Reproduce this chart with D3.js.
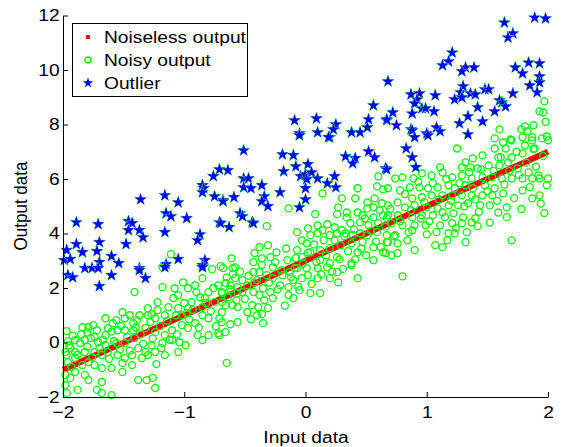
<!DOCTYPE html>
<html><head><meta charset="utf-8">
<script src="https://cdn.jsdelivr.net/npm/d3@7"></script>
<style>body{margin:0;background:#fff}svg{display:block}</style>
</head><body><svg id="c" width="562" height="447"></svg>
<script>
const xTicks=[-2,-1,0,1,2];
const xTickLabels=["\u22122","\u22121","0","1","2"];
const yTicks=[-2,0,2,4,6,8,10,12];
const yTickLabels=["\u22122","0","2","4","6","8","10","12"];
const seriesNames=["Noiseless output","Noisy output","Outlier"];
const axisTitles=["Input data","Output data"];
const noiselessX=[-2,-1,0,1,2];
const noiselessY=[-1,1,3,5,7];
const noisyOutput=[
[-1.97,0.42],[-1.96,0.05],[-1.98,-0.35],[-1.97,-0.46],[-1.96,-0.72],[-1.98,-1.19],[-1.94,-1.30],[-1.98,-1.56],[-1.97,-1.85],[-1.88,-1.74],
[-1.90,0.09],[-1.86,-0.02],[-1.82,0.09],[-1.84,0.56],[-1.79,0.56],[-1.80,0.38],[-1.75,0.64],[-1.72,0.45],[-1.74,0.20],[-1.71,0.01],
[-1.65,0.89],[-1.63,0.53],[-1.59,0.71],[-1.56,0.82],[-1.51,1.11],[-1.49,0.89],[-1.55,0.45],[-1.49,0.45],[-1.42,0.45],[-1.42,0.71],
[-1.39,0.82],[-1.41,1.85],[-1.27,1.04],[-1.24,0.89],[-1.18,2.03],[-1.08,1.99],[-1.09,1.63],[-1.05,1.74],[-1.01,2.21],[-0.97,1.99],
[-0.91,2.10],[-0.85,2.36],[-0.87,1.66],[-0.80,1.85],[-0.72,2.10],[-0.69,1.85],[-0.75,1.48],[-0.69,1.11],[-0.85,1.00],[-0.98,1.08],
[-1.05,1.26],[-1.13,1.30],[-1.22,1.19],[-1.30,1.26],[-1.32,0.53],[-1.24,0.38],[-1.16,0.27],[-1.10,0.45],[-1.02,0.64],[-0.97,0.53],
[-0.89,0.27],[-0.80,0.27],[-0.72,0.34],[-0.85,0.09],[-1.04,0.01],[-1.10,0.09],[-1.18,-0.02],[-1.27,-0.10],[-1.32,-0.35],[-1.38,-0.21],
[-1.43,-0.46],[-1.49,-0.57],[-1.55,-0.46],[-1.63,-0.35],[-1.68,-0.46],[-1.74,-0.35],[-1.79,-0.72],[-1.84,-0.83],[-1.74,-0.83],[-1.68,-0.94],
[-1.60,-0.94],[-1.51,-1.08],[-1.51,-0.75],[-1.43,-0.83],[-1.35,-0.57],[-1.30,-0.46],[-1.24,-0.35],[-1.23,-0.79],[-1.16,-0.46],[-1.05,-0.35],
[-0.99,-0.10],[-1.38,-1.38],[-1.31,-1.38],[-1.26,-1.30],[-1.24,-1.67],[-1.60,-1.93],[-1.68,-1.85],[-1.72,-1.74],[-1.68,-1.45],[-1.82,-1.19],
[-1.79,-1.38],[-1.90,-1.08],[-1.93,-0.90],[-1.65,0.27],[-1.90,-0.35],[-1.82,-0.35],[-1.94,-0.21],[-1.90,-0.57],[-1.41,0.16],[-1.49,-0.02],
[-1.56,-0.02],[-1.65,-0.10],[-0.94,1.48],[-0.97,1.26],[-0.85,1.30],[-0.80,0.89],[-0.91,0.71],[-1.02,1.00],[-1.16,1.00],[-1.22,1.48],
[-1.30,1.00],[-1.37,1.00],[-1.45,1.00],[-0.83,1.63],[-0.69,1.48],
[-0.68,2.73],[-0.60,2.73],[-0.65,2.39],[-0.58,2.36],[-0.52,2.29],[-0.66,2.18],[-0.62,2.10],[-0.56,2.03],[-0.48,2.10],[-0.43,2.58],
[-0.38,2.58],[-0.40,2.29],[-0.32,2.47],[-0.27,2.76],[-0.27,2.36],[-0.19,2.47],[-0.13,2.58],[-0.07,2.73],[-0.10,2.29],[-0.03,2.36],
[0.02,2.47],[0.10,2.73],[0.10,2.36],[0.18,2.76],[0.20,2.36],[0.26,2.58],[0.27,2.21],[0.38,2.84],[0.43,2.36],[-0.69,1.81],
[-0.64,1.66],[-0.56,1.81],[-0.52,1.85],[-0.43,1.85],[-0.38,1.74],[-0.29,1.85],[-0.27,1.63],[-0.35,1.99],[-0.21,2.10],[-0.14,2.03],
[-0.14,1.74],[-0.10,1.63],[-0.05,1.92],[0.04,1.81],[0.12,1.81],[-0.66,1.37],[-0.60,1.37],[-0.56,1.30],[-0.48,1.11],[-0.44,1.37],
[-0.39,1.30],[-0.31,1.26],[-0.40,1.00],[-0.36,1.04],[-0.71,0.89],[-0.69,0.75],[-0.62,0.67],[-0.56,0.75],[-0.35,0.71],[-0.66,0.38],
[-0.71,0.27],[-0.65,-0.75],[0.80,2.43],
[1.97,8.85],[1.93,8.48],[1.96,8.44],[1.88,7.97],[1.81,7.93],[1.78,7.82],[1.83,7.75],[1.60,7.82],[1.69,7.45],[1.79,7.53],
[1.87,7.53],[1.99,7.56],[1.56,7.49],
[1.63,7.34],[1.70,7.42],[1.87,7.42],[1.95,7.49],[2.00,7.42],[1.25,7.12],[1.56,7.12],[1.65,7.12],[1.81,7.23],[1.89,7.12],
[1.46,6.87],[1.59,6.79],[1.70,6.79],[1.79,6.94],[1.32,6.61],[1.38,6.76],[1.29,6.43],[1.36,6.43],[1.42,6.39],[1.51,6.50],
[1.60,6.50],[1.67,6.61],[1.75,6.39],[1.84,6.24],[1.92,6.13],[2.00,6.02],[1.99,5.77],[1.93,6.02],[1.87,6.02],[1.79,6.02],
[1.70,6.02],[1.62,6.02],[1.54,6.06],[1.46,6.06],[1.37,6.02],[1.29,6.13],[1.21,6.06],[1.11,6.43],[1.13,6.24],[1.04,6.13],
[0.96,6.21],[0.89,6.02],[0.80,6.06],[0.74,6.02],[0.78,5.58],[0.68,5.66],[0.86,5.69],[0.94,5.69],[1.01,5.66],[1.09,5.69],
[1.18,5.77],[1.23,5.66],[1.32,5.77],[1.38,5.66],[1.48,5.77],[1.56,5.66],[1.63,5.47],[1.54,5.40],[1.46,5.40],[1.37,5.40],
[1.29,5.40],[1.21,5.40],[1.13,5.40],[1.04,5.40],[0.96,5.33],[0.88,5.29],[0.76,5.14],[0.68,5.03],[1.87,5.29],[1.93,5.40],
[1.79,5.58],[0.82,4.96],[0.90,5.03],[1.00,4.96],[1.09,4.92],[1.18,5.03],[1.26,5.03],[1.34,5.11],[1.44,5.03],[1.52,5.03],
[1.59,4.77],[1.66,4.96],[0.68,4.67],[0.76,4.67],[0.88,4.59],[0.96,4.67],[1.05,4.67],[1.13,4.78],[1.22,4.74],[1.30,4.59],
[1.40,4.56],[0.71,4.38],[0.80,4.30],[0.90,4.30],[0.99,4.30],[1.11,4.30],[1.21,4.38],[1.29,4.38],[1.37,4.41],[1.18,4.01],
[1.23,4.01],[1.42,4.27],[0.74,3.94],[0.88,4.12],[1.00,3.97],[0.84,3.75],[0.76,3.64],[0.68,3.68],[0.66,3.28],[0.71,3.20],
[0.76,3.28],[0.90,3.39],[1.07,3.57],[1.13,3.50],[1.17,3.75],[1.32,3.68],[1.70,3.75],
[0.60,6.10],[0.43,5.66],[0.59,5.73],[0.64,5.62],[0.14,5.47],[0.30,5.29],[0.41,5.29],[0.51,5.14],[0.57,5.29],[0.63,5.11],
[-0.14,4.92],[0.27,4.96],[0.34,4.77],[0.26,4.71],[0.43,4.77],[0.51,4.92],[0.56,4.96],[0.08,4.71],[0.34,4.59],[0.47,4.67],
[0.56,4.59],[0.64,4.67],[-0.32,4.27],[-0.07,4.05],[0.02,4.19],[0.10,4.30],[0.18,4.34],[0.24,4.23],[0.30,4.12],[0.37,4.38],
[0.45,4.41],[0.52,4.30],[0.60,4.38],[0.67,4.56],[-0.03,3.75],[0.04,3.94],[0.10,4.01],[0.14,4.12],[0.20,3.94],[0.26,4.01],
[0.33,4.01],[0.39,3.94],[0.45,4.01],[0.51,3.94],[0.59,4.05],[0.67,3.94],[-0.38,3.50],[-0.31,3.57],[-0.42,3.28],[-0.36,3.09],
[-0.29,3.13],[-0.24,3.31],[-0.43,2.95],[-0.61,3.09],[-0.58,2.76],[-0.15,3.02],[-0.07,3.39],[0.01,3.64],[-0.03,3.13],[0.04,3.31],
[0.12,3.39],[0.12,3.02],[0.20,3.46],[0.26,3.13],[0.20,2.91],[0.29,3.57],[0.38,3.64],[0.43,3.31],[0.38,2.91],[0.47,3.68],
[0.56,3.50],[0.56,3.02],[0.64,3.31],[0.67,3.68],[-0.09,2.73],[0.01,2.73],
[-1.11,3.24],[-1.18,2.76],[-0.70,2.80],[-0.77,2.69],
[-1.95,-0.10],[-1.92,0.25],[-1.88,-0.45],[-1.85,0.30],[-1.80,-0.15],[-1.77,0.15],[-1.76,-0.55],[-1.70,-0.20],[-1.67,0.10],[-1.62,-0.60],
[-1.60,0.40],[-1.58,0.05],[-1.53,-0.25],[-1.52,0.60],[-1.47,0.20],[-1.45,-0.30],[-1.40,0.55],[-1.36,0.30],[-1.34,-0.05],[-1.28,0.75],
[-1.26,0.15],[-1.20,0.60],[-1.19,-0.20],[-1.14,0.80],[-1.12,0.10],[-1.07,1.00],[-1.06,0.30],[-1.00,1.45],[-0.96,0.85],[-0.93,1.20],
[-0.90,1.85],[-0.88,0.55],[-0.82,1.45],[-0.78,1.15],[-0.76,2.00],[-0.74,0.60],
[-0.62,1.95],[-0.60,2.50],[-0.57,1.55],[-0.54,2.60],[-0.50,1.60],[-0.47,2.45],[-0.45,0.85],[-0.42,2.20],[-0.36,2.85],[-0.34,1.55],
[-0.30,2.20],[-0.25,2.95],[-0.23,1.95],[-0.20,2.65],[-0.17,1.35],[-0.16,3.45],[-0.12,2.40],[-0.08,3.10],[-0.06,2.05],[-0.02,2.90],
[0.02,3.30],[0.05,2.15],[0.07,3.60],[0.09,2.95],[0.13,2.50],[0.15,3.75],[0.17,3.20],[0.22,2.60],[0.24,3.75],[0.28,3.05],
[0.31,2.70],[0.32,3.90],[0.35,3.35],[0.40,4.15],[0.41,3.05],[0.46,3.45],[0.49,4.55],[0.50,3.20],[0.54,4.10],[0.58,3.70],
[0.61,4.85],[0.62,3.50],[0.66,4.25],
[0.70,4.90],[0.73,3.90],[0.78,4.45],[0.82,5.45],[0.85,4.05],[0.87,4.85],[0.93,5.90],[0.95,4.55],[0.98,5.15],[1.02,4.45],
[1.05,5.85],[1.08,4.05],[1.10,5.25],[1.15,4.60],[1.16,6.00],[1.20,5.20],[1.24,4.20],[1.27,5.85],[1.31,5.00],[1.33,4.05],
[1.35,6.25],[1.40,5.25],[1.43,4.80],[1.45,6.35],[1.50,5.55],[1.52,4.40],[1.55,6.30],[1.58,5.20],[1.61,6.80],[1.64,5.80],
[1.66,4.60],[1.68,6.30],[1.72,5.30],[1.74,7.00],[1.76,6.15],[1.78,4.90],[1.82,6.60],[1.85,5.70],[1.88,7.10],[1.90,6.45],
[1.94,5.10],[1.96,6.85],[1.98,8.10],[1.97,4.75]
];
const outliers=[
[1.64,11.74],[1.89,11.92],[1.98,11.89],[1.71,11.34],[1.67,11.19],[1.21,10.64],[1.18,10.31],[1.13,10.17],[1.32,10.09],[1.29,9.95],
[1.39,10.09],[0.68,9.58],[1.73,10.09],[1.84,10.27],[1.93,10.24],[1.79,9.87],[1.93,9.76],[1.93,9.54],[1.85,9.43],[1.91,9.18],
[1.30,9.40],[1.28,9.18],[1.36,9.14],[1.40,9.10],[1.23,8.92],[1.29,8.99],[1.48,9.29],[1.51,9.29],[1.71,9.14],[0.87,9.10],
[0.94,9.14],[1.07,9.07],[0.92,8.92],[0.90,8.77],[0.96,8.59],[0.99,8.59],[1.06,8.48],[0.72,8.44],[0.67,8.15],[0.88,8.40],
[0.75,7.97],[0.87,7.82],[0.88,7.78],[0.90,7.53],[1.00,7.67],[1.08,7.89],[1.11,7.75],[1.27,8.04],[1.34,8.30],[1.42,8.63],
[1.46,8.11],[1.56,8.48],[1.60,8.88],[1.62,8.81],[1.65,8.66],[1.34,7.64],[-0.09,8.15],[0.09,8.22],[-0.05,7.67],[0.10,7.71],
[0.25,8.00],[0.23,7.82],[0.20,7.53],[0.38,7.71],[0.45,7.71],[0.51,7.89],[0.52,8.19],[0.56,8.70],[0.67,8.19],[-0.71,6.35],
[-0.76,6.10],[-0.85,5.77],[-0.84,5.66],[-0.85,5.51],[-0.75,5.36],[-0.68,5.22],[-1.16,5.40],[-1.05,5.14],[-1.36,5.25],[-1.15,4.74],
[-1.11,4.63],[-0.98,4.56],[-0.71,4.41],[-1.46,4.45],[-1.43,4.38],[-1.46,4.12],[-1.37,4.12],[-1.34,3.86],[-1.16,4.05],[-0.87,3.97],
[-0.89,3.75],[-1.89,4.41],[-1.71,4.34],[-1.70,3.68],[-1.89,3.61],[-1.84,3.31],[-1.72,3.35],[-1.97,3.39],[-1.48,3.61],[-1.60,3.17],
[-1.70,2.95],[-1.54,2.91],[-1.99,3.02],[-1.94,3.06],[-1.15,2.87],[-1.05,3.06],[-0.83,3.02],[-0.85,2.84],[-1.82,2.73],[-1.76,2.73],
[-1.71,2.73],[-1.37,2.73],[-1.96,2.47],[-1.92,2.39],[-1.60,2.47],[-1.70,2.07],[-1.37,2.65],[-1.32,2.36],[-1.16,2.76],[-0.85,2.76],
[-0.05,7.60],[0.19,7.53],[-0.51,7.05],[-0.19,6.90],[-0.10,6.87],[0.33,6.83],[0.41,6.76],[0.39,6.57],[0.52,7.01],[0.57,6.79],
[0.66,6.39],[-0.64,6.32],[-0.08,6.46],[0.02,6.54],[-0.18,6.28],[-0.04,6.10],[0.00,6.17],[0.01,5.99],[0.05,6.24],[0.10,6.02],
[0.24,6.10],[0.18,5.84],[0.25,5.69],[0.00,5.66],[0.00,5.25],[-0.05,4.96],[-0.21,5.51],[-0.51,6.02],[-0.47,6.02],[-0.51,5.69],
[-0.45,5.66],[-0.36,5.77],[-0.34,5.36],[-0.36,5.18],[-0.31,5.00],[-0.59,5.33],[-0.68,5.18],[-0.54,4.74],[-0.52,4.63],[-0.44,4.41],
[-0.43,4.38],[-0.70,4.38],[-0.63,4.23],[1.01,7.60],[0.83,7.12],[0.88,6.79],[0.91,6.43],[0.67,6.35]
];

const FONT="'Liberation Sans', Arial, Helvetica, sans-serif";
const FS=17, SX=1.13;
const svg=d3.select("#c");
const x=d3.scaleLinear().domain([-2,2]).range([63,548]);
const y=d3.scaleLinear().domain([-2,12]).range([397,15.5]);

// noiseless output
svg.append("path")
  .datum(d3.zip(noiselessX,noiselessY))
  .attr("d",d3.line().x(d=>x(d[0])).y(d=>y(d[1])))
  .attr("fill","none").attr("stroke","#ff0000").attr("stroke-width",6);

// noisy output
svg.append("g").selectAll("circle").data(noisyOutput).join("circle")
  .attr("cx",d=>x(d[0])).attr("cy",d=>y(d[1])).attr("r",3.5)
  .attr("fill","none").attr("stroke","#00ff00").attr("stroke-width",1.3);

// outliers
const star=d3.symbol(d3.symbolStar,44);
svg.append("g").selectAll("path").data(outliers).join("path")
  .attr("transform",d=>`translate(${x(d[0])},${y(d[1])})`)
  .attr("d",star).attr("fill","#0000ff").attr("stroke","#66ee66")
  .attr("stroke-width",1.0).attr("paint-order","stroke");

// axes
const gx=svg.append("g").attr("transform","translate(0,397)")
  .call(d3.axisBottom(x).tickValues(xTicks).tickFormat((d,i)=>xTickLabels[i]).tickSizeInner(-5).tickSizeOuter(0).tickPadding(9));
const gy=svg.append("g").attr("transform","translate(63,0)")
  .call(d3.axisLeft(y).tickValues(yTicks).tickFormat((d,i)=>yTickLabels[i]).tickSizeInner(-5).tickSizeOuter(0).tickPadding(3));
[gx,gy].forEach(g=>{
  g.attr("font-family",FONT).attr("font-size",FS);
  g.select(".domain").attr("stroke","#000");
  g.selectAll(".tick line").attr("stroke","#000");
  g.selectAll(".tick text").attr("fill","#000").attr("transform",`scale(${SX},1)`);
});

// axis titles
svg.append("text").attr("transform",`translate(306,443) scale(${SX},1)`)
  .attr("text-anchor","middle").attr("font-family",FONT).attr("font-size",FS).text(axisTitles[0]);
svg.append("text").attr("transform",`translate(27,206) scale(${SX},1) rotate(-90)`)
  .attr("text-anchor","middle").attr("font-family",FONT).attr("font-size",FS).text(axisTitles[1]);

// legend
const lg=svg.append("g");
lg.append("rect").attr("x",72.5).attr("y",23.5).attr("width",175).attr("height",73)
  .attr("fill","#fff").attr("stroke","#000").attr("stroke-width",1);
const rows=[37,60,83];
lg.append("rect").attr("x",86).attr("y",rows[0]-2).attr("width",4).attr("height",4).attr("fill","#ff0000");
lg.append("circle").attr("cx",88).attr("cy",rows[1]).attr("r",3).attr("fill","none").attr("stroke","#00ff00").attr("stroke-width",1.3);
lg.append("path").attr("transform",`translate(88,${rows[2]})`).attr("d",d3.symbol(d3.symbolStar,34)).attr("fill","#0000ff");
seriesNames.forEach((n,i)=>{
  lg.append("text").attr("transform",`translate(104,${rows[i]}) scale(${SX},1)`)
    .attr("dy","0.35em").attr("font-family",FONT).attr("font-size",FS).text(n);
});
</script></body></html>
